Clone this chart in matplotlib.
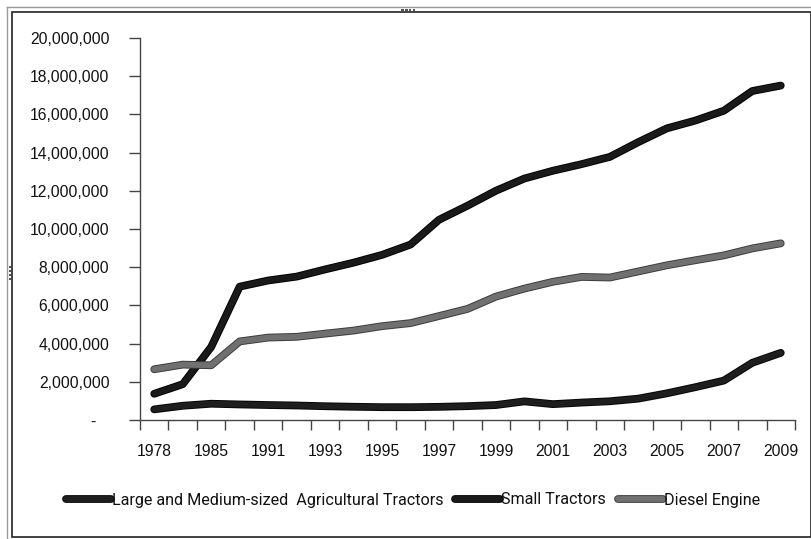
import matplotlib
matplotlib.use("Agg")
import matplotlib.pyplot as plt
import matplotlib.patheffects as pe
from matplotlib.ticker import FixedLocator, FuncFormatter, NullFormatter
from matplotlib.patches import Rectangle
from matplotlib.lines import Line2D

# Machinery stock by year (units)
years = [1978, 1980, 1985, 1990, 1991, 1992, 1993, 1994, 1995, 1996, 1997, 1998,
         1999, 2000, 2001, 2002, 2003, 2004, 2005, 2006, 2007, 2008, 2009]

large_medium_tractors = [557000, 745000, 852000, 814000, 784000, 759000, 721000,
                         693000, 672000, 671000, 689000, 725000, 784000, 975000,
                         830000, 912000, 981000, 1119000, 1396000, 1718000,
                         2063000, 2995000, 3516000]

small_tractors = [1373000, 1874000, 3824000, 6981000, 7304000, 7507000, 7883000,
                  8238000, 8646000, 9186000, 10484000, 11220000, 12004000,
                  12643000, 13051000, 13393000, 13777000, 14549000, 15268000,
                  15678000, 16192000, 17224000, 17509000]

diesel_engines = [2657000, 2899000, 2865000, 4113000, 4315000, 4355000, 4521000,
                  4682000, 4913000, 5073000, 5442000, 5816000, 6461000, 6882000,
                  7236000, 7491000, 7459000, 7778000, 8099000, 8364000, 8617000,
                  8983000, 9249000]

series_names = ["Large and Medium-sized  Agricultural Tractors",
                "Small Tractors", "Diesel Engine"]

W, H = 811, 539
fig = plt.figure(figsize=(W / 100, H / 100), dpi=100)
fig.patch.set_facecolor("white")

# chart-area frame (double line on top/left, thin dark box)
fig.add_artist(Rectangle((12 / W, 1 - 537 / H), (W - 12) / W, (537 - 12) / H,
                         transform=fig.transFigure, fill=False,
                         edgecolor="#222222", linewidth=1.2))
fig.add_artist(Line2D([7 / W, 1], [1 - 7 / H, 1 - 7 / H], transform=fig.transFigure,
                      color="#9a9a9a", linewidth=1.0))
fig.add_artist(Line2D([7 / W, 7 / W], [0, 1 - 7 / H], transform=fig.transFigure,
                      color="#9a9a9a", linewidth=1.0))
# selection handles
for k in range(4):
    fig.add_artist(Rectangle(((401 + 4 * k) / W, 1 - 11 / H), 2.5 / W, 2.2 / H,
                             transform=fig.transFigure, facecolor="#555555",
                             edgecolor="none"))
    fig.add_artist(Rectangle((8.5 / W, 1 - (268 + 4 * k) / H), 2.2 / W, 2.5 / H,
                             transform=fig.transFigure, facecolor="#555555",
                             edgecolor="none"))

left, right, bottom, top = 140, 795, 420, 38
ax = fig.add_axes([left / W, 1 - bottom / H, (right - left) / W, (bottom - top) / H])

x = list(range(len(years)))

def styled(core, edge, lw=4.2):
    return dict(color=core, linewidth=lw, solid_capstyle="round",
                solid_joinstyle="round",
                path_effects=[pe.Stroke(linewidth=lw + 1.4, foreground=edge),
                              pe.Normal()])

ax.plot(x, large_medium_tractors, label=series_names[0], **styled("#1e1e1e", "#050505"))
ax.plot(x, small_tractors, label=series_names[1], **styled("#1a1a1a", "#000000"))
ax.plot(x, diesel_engines, label=series_names[2], **styled("#707070", "#3c3c3c"))

ax.set_xlim(-0.5, len(years) - 0.5)
ax.set_ylim(0, 20000000)

for s in ("top", "right"):
    ax.spines[s].set_visible(False)
for s in ("left", "bottom"):
    ax.spines[s].set_color("#444444")
    ax.spines[s].set_linewidth(1.0)

tick_font = dict(family=["Liberation Sans", "DejaVu Sans"], size=11.3)

# x: tick marks between categories, labels on every other category
ax.xaxis.set_major_locator(FixedLocator([i - 0.5 for i in range(len(years) + 1)]))
ax.xaxis.set_major_formatter(NullFormatter())
label_pos = list(range(0, len(years), 2))
ax.xaxis.set_minor_locator(FixedLocator(label_pos))
ax.set_xticklabels([str(years[i]) for i in label_pos], minor=True, **tick_font)
ax.tick_params(axis="x", which="major", direction="out", length=7, width=1.0,
               color="#444444")
ax.tick_params(axis="x", which="minor", length=0, pad=17, colors="#111111")

# y: accounting-style labels
ax.yaxis.set_major_locator(FixedLocator(range(0, 20000001, 2000000)))
ax.yaxis.set_major_formatter(FuncFormatter(lambda v, p: "-   " if v == 0 else f"{int(v):,}"))
ax.tick_params(axis="y", direction="out", length=8, width=1.0, color="#444444",
               pad=14, labelcolor="#111111")
for t in ax.get_yticklabels():
    t.set_fontfamily(tick_font["family"])
    t.set_fontsize(tick_font["size"])

leg = fig.legend(loc="center", bbox_to_anchor=(413 / W, 1 - 500 / H), ncol=3,
                 frameon=False, handlelength=2.8, handletextpad=0.05,
                 columnspacing=0.75,
                 prop=dict(family=["Roboto", "DejaVu Sans"], size=11.6))
for t in leg.get_texts():
    t.set_color("#111111")

fig.savefig("out.png", dpi=100, facecolor="white")
